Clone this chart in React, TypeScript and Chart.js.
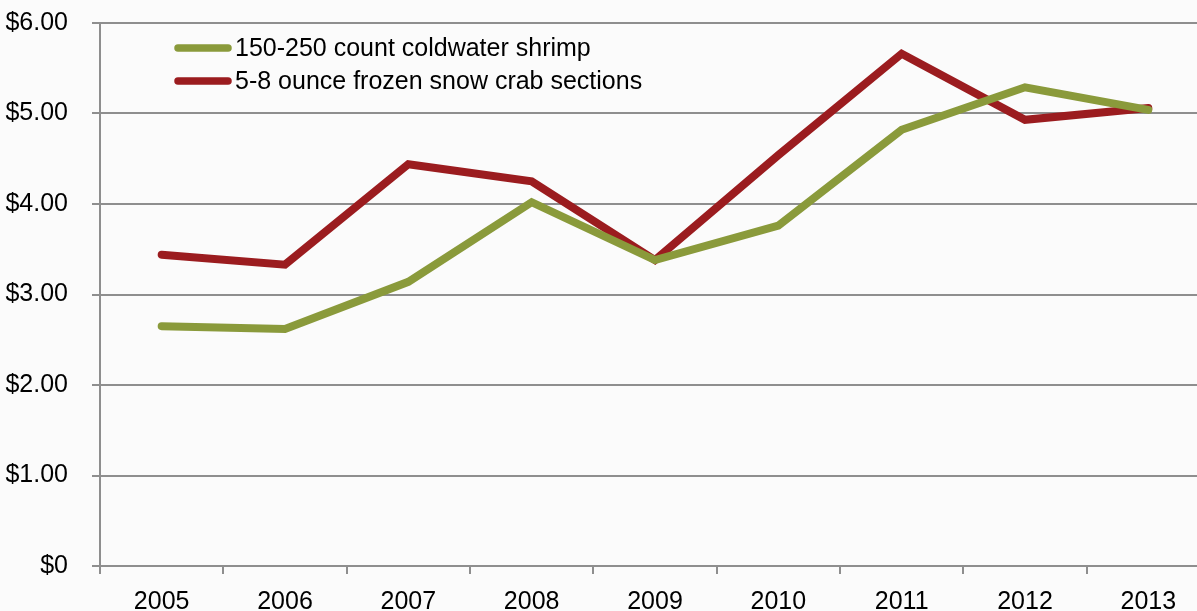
import React, { useEffect, useRef } from "react";
import { Chart, registerables } from "chart.js";

Chart.register(...registerables);

const years = ["2005", "2006", "2007", "2008", "2009", "2010", "2011", "2012", "2013"];
const shrimpLabel = "150-250 count coldwater shrimp";
const crabLabel = "5-8 ounce frozen snow crab sections";
const shrimpValues = [2.65, 2.62, 3.14, 4.02, 3.38, 3.76, 4.82, 5.29, 5.04];
const crabValues = [3.44, 3.33, 4.44, 4.25, 3.38, 4.54, 5.66, 4.93, 5.06];
const yTickLabels = ["$0", "$1.00", "$2.00", "$3.00", "$4.00", "$5.00", "$6.00"];

const GREEN = "#8a9a3b";
const RED = "#9b1c1f";
const GRID = "#8e8e8e";
const FONT = "'Liberation Sans', Arial, sans-serif";

const legendPlugin = {
  id: "insideLegend",
  afterDraw(chart: any) {
    const { ctx, chartArea } = chart;
    const x0 = chartArea.left + 75;
    const y0 = chartArea.top + 25;
    ctx.save();
    chart.data.datasets.forEach((ds: any, i: number) => {
      const y = y0 + i * 33;
      ctx.strokeStyle = ds.borderColor;
      ctx.lineWidth = 7.5;
      ctx.lineCap = "round";
      ctx.beginPath();
      ctx.moveTo(x0 + 3, y);
      ctx.lineTo(x0 + 53, y);
      ctx.stroke();
      ctx.fillStyle = "#000";
      ctx.font = `25px ${FONT}`;
      ctx.textBaseline = "middle";
      ctx.textAlign = "left";
      ctx.fillText(ds.label, x0 + 60, y + 1);
    });
    ctx.restore();
  },
};

export default function App() {
  const ref = useRef<HTMLCanvasElement | null>(null);
  useEffect(() => {
    if (!ref.current) return;
    const chart = new Chart(ref.current, {
      type: "line",
      data: {
        labels: years,
        datasets: [
          {
            label: shrimpLabel,
            data: shrimpValues,
            borderColor: GREEN,
            backgroundColor: GREEN,
            borderWidth: 8,
            pointRadius: 0,
            borderCapStyle: "round",
            borderJoinStyle: "miter",
            tension: 0,
          },
          {
            label: crabLabel,
            data: crabValues,
            borderColor: RED,
            backgroundColor: RED,
            borderWidth: 8,
            pointRadius: 0,
            borderCapStyle: "round",
            borderJoinStyle: "miter",
            tension: 0,
          },
        ],
      },
      options: {
        animation: false,
        responsive: false,
        devicePixelRatio: 1,
        layout: { padding: { top: 23, right: 0, left: 0, bottom: 0 } },
        plugins: {
          legend: { display: false },
          tooltip: { enabled: false },
        },
        scales: {
          x: {
            type: "category",
            offset: true,
            grid: {
              offset: true,
              drawOnChartArea: false,
              drawTicks: true,
              tickLength: 8,
              color: GRID,
              lineWidth: 2,
            },
            border: { display: true, color: GRID, width: 2 },
            ticks: {
              color: "#000",
              font: { family: FONT, size: 25 },
              padding: 13,
              maxRotation: 0,
              autoSkip: false,
            },
            afterFit: (scale: any) => {
              scale.height = 45;
              scale.paddingLeft = 0;
              scale.paddingRight = 0;
            },
          },
          y: {
            min: 0,
            max: 6,
            grid: {
              color: GRID,
              lineWidth: 2,
              drawTicks: true,
              tickLength: 8,
            },
            border: { display: true, color: GRID, width: 2 },
            ticks: {
              stepSize: 1,
              color: "#000",
              font: { family: FONT, size: 25 },
              padding: 24,
              callback: (v: any) => yTickLabels[Math.round(Number(v))] ?? "",
            },
            afterFit: (scale: any) => {
              scale.width = 100;
              scale.paddingTop = 0;
              scale.paddingBottom = 0;
            },
          },
        },
      },
      plugins: [legendPlugin],
    });
    return () => chart.destroy();
  }, []);

  return (
    <div
      style={{
        position: "fixed",
        left: 0,
        top: 0,
        width: 1197,
        height: 611,
        overflow: "hidden",
        background: "#fbfbfb",
      }}
    >
      <canvas ref={ref} width={1210} height={611} style={{ display: "block" }} />
    </div>
  );
}
